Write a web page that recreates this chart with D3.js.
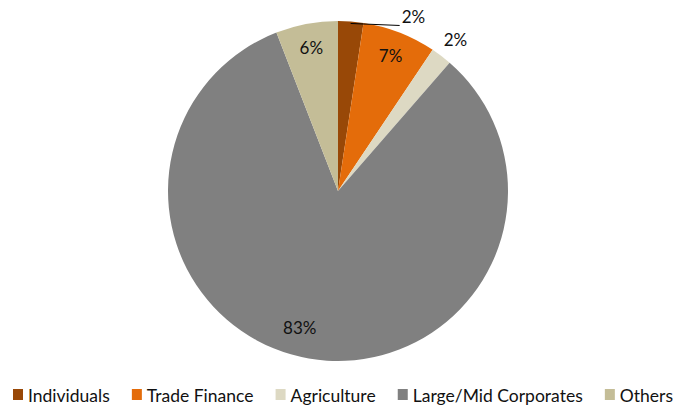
<!DOCTYPE html>
<html>
<head>
  <style>
    body { margin: 0; background: #fff; }
    text { font-family: Lato, "Open Sans", sans-serif; fill: #111; }
  </style>
</head>
<body>
  <svg id="chart" width="675" height="410"></svg>
  <script src="https://d3js.org/d3.v7.min.js"></script>
  <script>
    const categories = ["Individuals", "Trade Finance", "Agriculture", "Large/Mid Corporates", "Others"];
    const shares = [2.4, 7.0, 2.0, 82.7, 5.9];
    const labels = ["2%", "7%", "2%", "83%", "6%"];
    const colors = ["#984807", "#e46c0a", "#ddd9c3", "#808080", "#c4bd97"];

    const svg = d3.select("#chart");
    const cx = 338, cy = 191, radius = 170;

    const pie = d3.pie().sort(null).value(d => d)(shares);
    const arc = d3.arc().innerRadius(0).outerRadius(radius);
    const labelArc = d3.arc().innerRadius(145).outerRadius(145);
    const outArc = d3.arc().innerRadius(190).outerRadius(190);

    const g = svg.append("g").attr("transform", "translate(" + cx + "," + cy + ")");

    g.selectAll("path")
      .data(pie)
      .join("path")
      .attr("d", arc)
      .attr("fill", (d, i) => colors[i]);

    // labels: big slices inside, tiny ones outside
    pie.forEach((d, i) => {
      if (i === 0) {
        // leader line for the first small slice
        const a = (d.startAngle + d.endAngle) / 2;
        const x0 = Math.sin(a) * (radius - 2), y0 = -Math.cos(a) * (radius - 2);
        g.append("line")
          .attr("x1", x0).attr("y1", y0)
          .attr("x2", x0 + 49).attr("y2", y0 + 2)
          .attr("stroke", "#000").attr("stroke-width", 1);
        g.append("text")
          .attr("x", x0 + 51).attr("y", y0)
          .attr("font-size", 17)
          .text(labels[i]);
      } else if (i === 2) {
        const [x, y] = outArc.centroid(d);
        g.append("text")
          .attr("x", x + 2).attr("y", y)
          .attr("dy", "0.35em")
          .attr("text-anchor", "middle")
          .attr("font-size", 17)
          .text(labels[i]);
      } else {
        let [x, y] = labelArc.centroid(d);
        if (i === 3) {
          const a = (d.startAngle + d.endAngle) / 2 + 0.1;
          x = Math.sin(a) * 142; y = -Math.cos(a) * 142;
        }
        g.append("text")
          .attr("x", x).attr("y", y)
          .attr("dy", "0.35em")
          .attr("text-anchor", "middle")
          .attr("font-size", 17)
          .text(labels[i]);
      }
    });

    // legend
    const legend = svg.append("g").attr("transform", "translate(0,396)");
    const items = legend.selectAll("g")
      .data(categories)
      .join("g");
    items.append("rect")
      .attr("width", 10).attr("height", 11)
      .attr("y", -7)
      .attr("fill", (d, i) => colors[i]);
    items.append("text")
      .attr("x", 15)
      .attr("dy", "0.35em")
      .attr("font-size", 17.5)
      .text(d => d);

    const widths = [];
    items.each(function () { widths.push(15 + d3.select(this).select("text").node().getComputedTextLength()); });
    const left = 13, right = 673;
    const gap = (right - left - d3.sum(widths)) / (categories.length - 1);
    let xPos = left;
    items.attr("transform", (d, i) => {
      const t = "translate(" + xPos + ",0)";
      xPos += widths[i] + gap;
      return t;
    });
  </script>
</body>
</html>
